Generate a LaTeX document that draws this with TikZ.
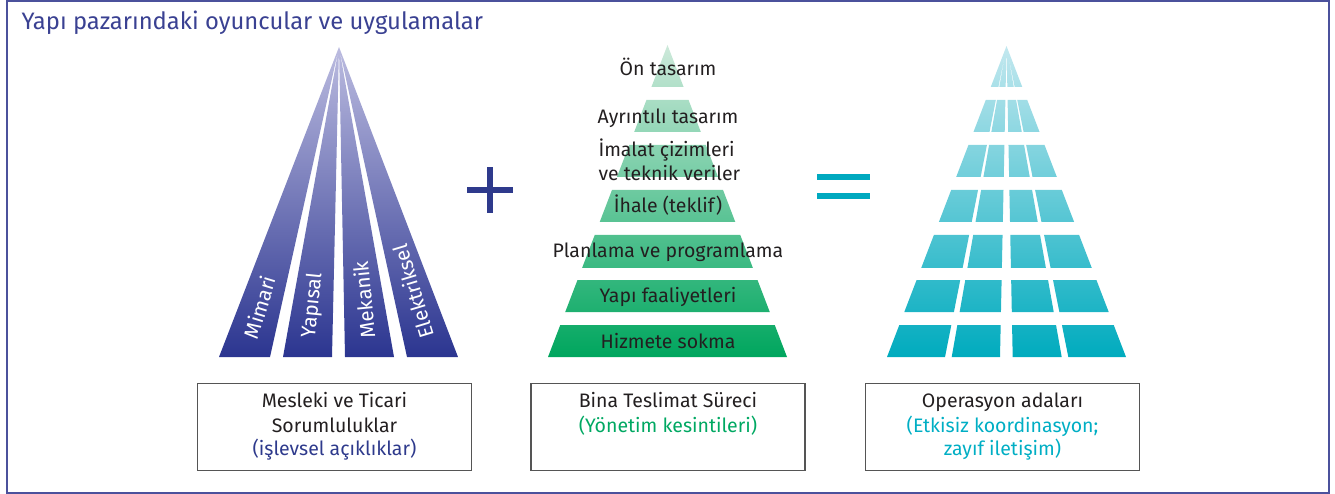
\documentclass[tikz,border=0pt]{standalone}
\usepackage{fontspec}
\setmainfont{Fira Sans}
\definecolor{navy}{HTML}{2E3A8C}
\definecolor{framec}{HTML}{4B519C}
\definecolor{titlec}{HTML}{3A4192}
\definecolor{fanTop}{HTML}{BCBCE0}
\definecolor{fanBot}{HTML}{2B3590}
\definecolor{grTop}{HTML}{CDE9DA}
\definecolor{grBot}{HTML}{00A65E}
\definecolor{cyTop}{HTML}{C3E8EF}
\definecolor{cyMid}{HTML}{3FC2D0}
\definecolor{cyBot}{HTML}{00ABBE}
\definecolor{eqc}{HTML}{00A9BF}
\definecolor{greentext}{HTML}{00A862}
\definecolor{cyantext}{HTML}{00AEC4}
\definecolor{txt}{HTML}{231F20}
\definecolor{boxc}{HTML}{555555}
\begin{document}
\begin{tikzpicture}[x=1pt,y=-1pt,
  fanlbl/.style={text=white,font=\fontsize{20.5}{24}\selectfont,inner sep=0pt},
  pyrlbl/.style={text=txt,font=\fontsize{19.5}{22}\selectfont,inner sep=0pt,anchor=base},
  boxst/.style={draw=boxc,line width=1.1pt,minimum width=274pt,minimum height=87pt,inner sep=0pt},
  boxlbl/.style={font=\fontsize{19.5}{22}\selectfont,inner sep=0pt,anchor=base}]
\useasboundingbox (0,0) rectangle (1335,494);
% frame
\draw[framec,line width=2pt] (7,1) rectangle (1328.5,492.5);
% title
\node[text=titlec,font=\fontsize{23.8}{28}\selectfont,inner sep=0pt,anchor=base west] (title) at (21.5,29.5) {Yapı pazarındaki oyuncular ve uygulamalar};
% left fan
\shade[top color=fanTop,bottom color=fanBot]
  (339,47) -- (219,357) -- (270,357) -- cycle
  (339,47) -- (283,357) -- (332,357) -- cycle
  (339,47) -- (345,357) -- (394,357) -- cycle
  (339,47) -- (407,357) -- (458,357) -- cycle;
\node[fanlbl,rotate=73,anchor=west] (lmim) at (250.3,338) {Mimari};
\node[fanlbl,rotate=84.2,anchor=west] (lyap) at (309.4,338) {Yapısal};
\node[fanlbl,rotate=95.6,anchor=west] (lmek) at (367.6,338) {Mekanik};
\node[fanlbl,rotate=106.8,anchor=west] (lelk) at (426.8,338) {Elektriksel};
% plus
\fill[navy] (467,187) rectangle (513,193);
\fill[navy] (487,167) rectangle (493,213);
% green pyramid
\shade[top color=grTop,bottom color=grBot]
  \foreach \t/\b in {45/87,100/132,145/177,190/222,235/268,280/312,325/357}{
    ({667.5-0.383*(\t-45)},\t) -- ({667.5+0.383*(\t-45)},\t) --
    ({667.5+0.383*(\b-45)},\b) -- ({667.5-0.383*(\b-45)},\b) -- cycle
  };
\node[pyrlbl] (g1) at (668,76) {Ön tasarım};
\node[pyrlbl] (g2) at (668,123.3) {Ayrıntılı tasarım};
\node[pyrlbl,anchor=base west] (g3a) at (598.3,156.7) {İmalat çizimleri};
\node[pyrlbl,anchor=base west] (g3b) at (598.3,180.5) {ve teknik veriler};
\node[pyrlbl] (g4) at (668,213) {İhale (teklif)};
\node[pyrlbl] (g5) at (668,258) {Planlama ve programlama};
\node[pyrlbl] (g6) at (668,302) {Yapı faaliyetleri};
\node[pyrlbl] (g7) at (668,348) {Hizmete sokma};
% equals
\fill[eqc] (817,174) rectangle (870,180);
\fill[eqc] (817,193) rectangle (870,199);
% cyan pyramid
\shade[top color=cyTop,middle color=cyMid,bottom color=cyBot]
  \foreach \t/\b in {46/87,100/132,145/177,190/222,235/268,280/312,325/357}{
    \foreach \l/\r in {887/945,951.7/1000,1012.7/1061.7,1068.3/1126}{
      ({1006.5+(\l-1006.5)/311*(\t-46)},\t) -- ({1006.5+(\r-1006.5)/311*(\t-46)},\t) --
      ({1006.5+(\r-1006.5)/311*(\b-46)},\b) -- ({1006.5+(\l-1006.5)/311*(\b-46)},\b) -- cycle
    }
  };
% boxes
\node[boxst] (box1) at (334.5,427) {};
\node[boxst] (box2) at (668,427) {};
\node[boxst] (box3) at (1002.5,427) {};
\node[boxlbl,text=txt] (b1a) at (334.5,407.3) {Mesleki ve Ticari};
\node[boxlbl,text=txt] (b1b) at (334.5,432.7) {Sorumluluklar};
\node[boxlbl,text=navy] (b1c) at (334.5,455.5) {(işlevsel açıklıklar)};
\node[boxlbl,text=txt] (b2a) at (668,407.3) {Bina Teslimat Süreci};
\node[boxlbl,text=greentext] (b2b) at (668,432.7) {(Yönetim kesintileri)};
\node[boxlbl,text=txt] (b3a) at (1002.5,407.3) {Operasyon adaları};
\node[boxlbl,text=cyantext] (b3b) at (1002.5,432.7) {(Etkisiz koordinasyon;};
\node[boxlbl,text=cyantext] (b3c) at (1002.5,455.5) {zayıf iletişim)};
\end{tikzpicture}
\end{document}
